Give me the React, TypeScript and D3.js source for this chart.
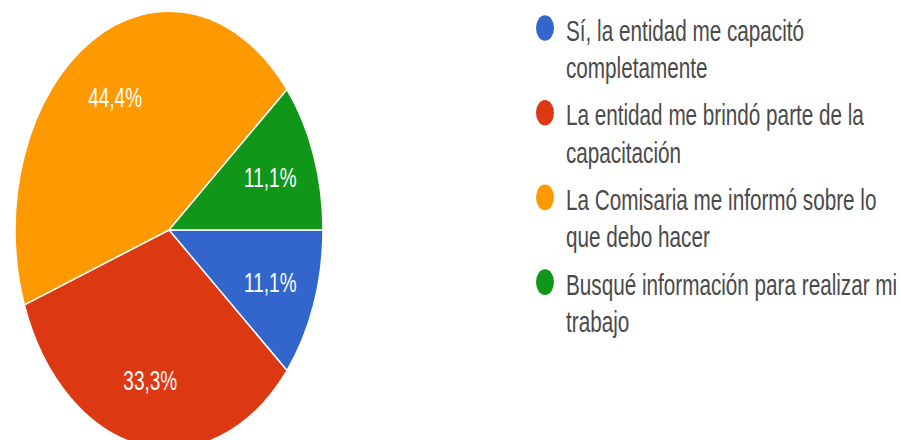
import React from "react";
import * as d3 from "d3";

const categories: string[][] = [
  ["Sí, la entidad me capacitó", "completamente"],
  ["La entidad me brindó parte de la", "capacitación"],
  ["La Comisaria me informó sobre lo", "que debo hacer"],
  ["Busqué información para realizar mi", "trabajo"],
];
const values: number[] = [1, 3, 4, 1];
const colors: string[] = ["#3366cc", "#dc3912", "#ff9900", "#109618"];

const W = 901;
const H = 440;
const STRETCH = 1.42;

export default function App() {
  const cx = 169;
  const cy = 230;
  const r = 154;
  const total = d3.sum(values);
  const pie = d3
    .pie<number>()
    .sort(null)
    .startAngle(Math.PI / 2)
    .endAngle(Math.PI / 2 + 2 * Math.PI);
  const arcs = pie(values);
  const arc = d3.arc<d3.PieArcDatum<number>>().innerRadius(0).outerRadius(r);
  const labelArc = d3
    .arc<d3.PieArcDatum<number>>()
    .innerRadius(r * 0.7)
    .outerRadius(r * 0.7);
  const fmt = (v: number) =>
    d3.format(".1f")((v / total) * 100).replace(".", ",") + "%";

  const legendX = 545;
  const legendY0 = 28;
  const itemGap = 84.7;
  const lineGap = 37.5;

  return (
    <svg
      width={W}
      height={H}
      style={{ position: "absolute", left: 0, top: 0, background: "#fff" }}
      fontFamily="Arial, 'Liberation Sans', sans-serif"
    >
      <rect x={0} y={0} width={W} height={H} fill="#fff" />
      <g transform={`translate(${cx},${cy}) scale(1,${STRETCH})`}>
        {arcs.map((a, i) => (
          <path
            key={i}
            d={arc(a) || ""}
            fill={colors[i]}
            stroke="#fff"
            strokeWidth={1.5}
            vectorEffect="non-scaling-stroke"
          />
        ))}
      </g>
      {arcs.map((a, i) => {
        const [lx, ly] = labelArc.centroid(a);
        return (
          <text
            key={i}
            transform={`translate(${cx + lx},${cy + ly * STRETCH}) scale(1,${STRETCH})`}
            textAnchor="middle"
            dy="0.36em"
            fill="#fff"
            fontSize={19}
          >
            {fmt(a.data)}
          </text>
        );
      })}
      {categories.map((lines, i) => {
        const y = legendY0 + i * itemGap;
        return (
          <g key={i}>
            <ellipse cx={legendX} cy={y} rx={9} ry={9 * STRETCH} fill={colors[i]} />
            {lines.map((t, j) => (
              <text
                key={j}
                transform={`translate(${legendX + 21},${y + 2 + j * lineGap}) scale(1,${STRETCH})`}
                dy="0.36em"
                fill="#4a4a4a"
                fontSize={20.7}
              >
                {t}
              </text>
            ))}
          </g>
        );
      })}
    </svg>
  );
}
